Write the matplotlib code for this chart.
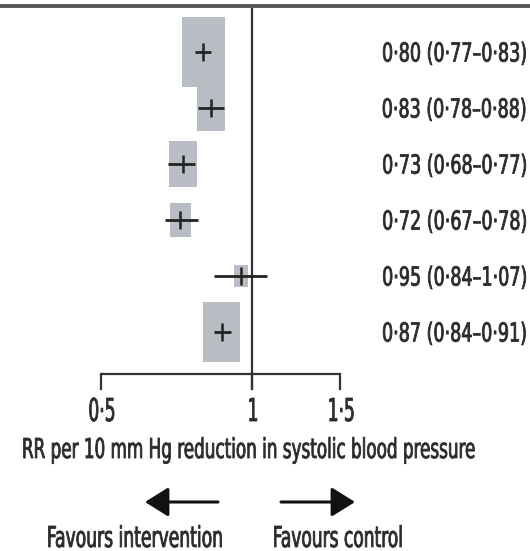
import numpy as np
import matplotlib
matplotlib.use("Agg")
from matplotlib import pyplot as plt
from matplotlib.patches import Rectangle
from matplotlib.patheffects import AbstractPathEffect
from matplotlib.transforms import Affine2D

plt.rcParams['font.family'] = ['DejaVu Sans']
plt.rcParams['font.stretch'] = 'condensed'

# Relative risk per 10 mm Hg reduction, with 95% CI
rr = [0.80, 0.83, 0.73, 0.72, 0.95, 0.87]
ci_low = [0.77, 0.78, 0.68, 0.67, 0.84, 0.84]
ci_high = [0.83, 0.88, 0.77, 0.78, 1.07, 0.91]
# relative weight of each estimate (box size)
weights = [1.0, 0.65, 0.65, 0.49, 0.33, 0.86]

tick_values = [0.5, 1, 1.5]
tick_labels = ["0·5", "1", "1·5"]


def fmt(v):
    return f"{v:.2f}".replace(".", "·")


class TallText(AbstractPathEffect):
    """Stretch glyphs vertically about the text baseline and thicken them a bit."""

    def __init__(self, sy, base, stroke=0.6):
        super().__init__()
        self.sy = sy
        self.base = base
        self.stroke = stroke

    def draw_path(self, renderer, gc, tpath, affine, rgbFace=None):
        stretch = (Affine2D().translate(0, -self.base)
                   .scale(1, self.sy).translate(0, self.base))
        gc0 = renderer.new_gc()
        gc0.copy_properties(gc)
        gc0.set_linewidth(self.stroke)
        gc0.set_foreground(rgbFace)
        gc0.set_joinstyle("round")
        renderer.draw_path(gc0, tpath, affine + stretch, rgbFace)
        gc0.restore()


W, H = 530, 551
fig = plt.figure(figsize=(W / 100, H / 100), dpi=100)
renderer = fig.canvas.get_renderer()
CAP = 0.729  # cap/digit height of DejaVu Sans, in em
text_color = "#2b2b2b"


def fit_text(x, base, s, width, cap_px, fontsize=None, **kw):
    # size the font so the string spans `width` px, then stretch to cap_px
    t = fig.text(x / W, 1 - base / H, s, fontsize=20, color=text_color,
                 va="baseline", **kw)
    if fontsize is None:
        w = t.get_window_extent(renderer).width
        fontsize = 20 * width / w
    t.set_fontsize(fontsize)
    sy = cap_px / (CAP * fontsize * 100 / 72)
    t.set_path_effects([TallText(sy, H - base)])
    return fontsize


ax = fig.add_axes([0, 0, 1, 1])
ax.set_xscale("log")
# log axis: 0.5 -> px 101, 1 -> px 252
k = 151 / np.log(2)
ax.set_xlim(np.exp(-252 / k), np.exp((W - 252) / k))
ax.set_ylim(H, 0)
ax.axis("off")

row_y = 52 + 56 * np.arange(len(rr))
axis_y = 374
tick_len = 15
box_max = 43
dark = "#222222"

for i in range(len(rr)):
    y = row_y[i]
    bw = box_max * weights[i]
    bh = bw * 1.62
    x0 = rr[i] * np.exp(-bw / 2 / k)
    x1 = rr[i] * np.exp(bw / 2 / k)
    ax.add_patch(Rectangle((x0, y - bh / 2), x1 - x0, bh,
                           facecolor="#b9bec4", edgecolor="none", zorder=1))
    ax.plot([ci_low[i], ci_high[i]], [y, y], color=dark, lw=2.0, zorder=3,
            solid_capstyle="butt")
    ax.plot([rr[i], rr[i]], [y - 9, y + 9], color=dark, lw=1.8, zorder=3,
            solid_capstyle="butt")
    label = f"{fmt(rr[i])} ({fmt(ci_low[i])}–{fmt(ci_high[i])})"
    fit_text(527, y + 9.5, label, 145, 19, ha="right")

# line of no effect
ax.plot([1, 1], [7, axis_y + tick_len], color="#333333", lw=1.6, zorder=2)

# x axis with downward ticks
ax.plot([tick_values[0], tick_values[-1]], [axis_y, axis_y], color="#333333",
        lw=1.6, solid_capstyle="butt")
tick_fs = None
for tv, tl in zip(tick_values, tick_labels):
    ax.plot([tv, tv], [axis_y, axis_y + tick_len], color="#333333", lw=1.6)
    xpx = 252 + k * np.log(tv)
    tick_fs = fit_text(xpx + 1, 421, tl, 27, 23, fontsize=tick_fs, ha="center")

# double rule at the top
ax.plot([ax.get_xlim()[0], ax.get_xlim()[1]], [6, 6], color="#555555", lw=2.8,
        solid_capstyle="butt")

fit_text(248, 458, "RR per 10 mm Hg reduction in systolic blood pressure",
         453, 20, ha="center")

arrow_kw = dict(arrowstyle="-|>,head_length=0.8,head_width=0.5",
                mutation_scale=18, color="#111111", lw=2.2,
                shrinkA=0, shrinkB=0)
ax.annotate("", xy=(145 / W, 1 - 502 / H), xytext=(218 / W, 1 - 502 / H),
            xycoords="figure fraction", textcoords="figure fraction",
            arrowprops=arrow_kw)
ax.annotate("", xy=(355 / W, 1 - 502 / H), xytext=(281 / W, 1 - 502 / H),
            xycoords="figure fraction", textcoords="figure fraction",
            arrowprops=arrow_kw)

fit_text(135, 547, "Favours intervention", 176, 21, ha="center")
fit_text(338, 547, "Favours control", 130, 21, ha="center")

fig.savefig("out.png", dpi=100, facecolor="white")
